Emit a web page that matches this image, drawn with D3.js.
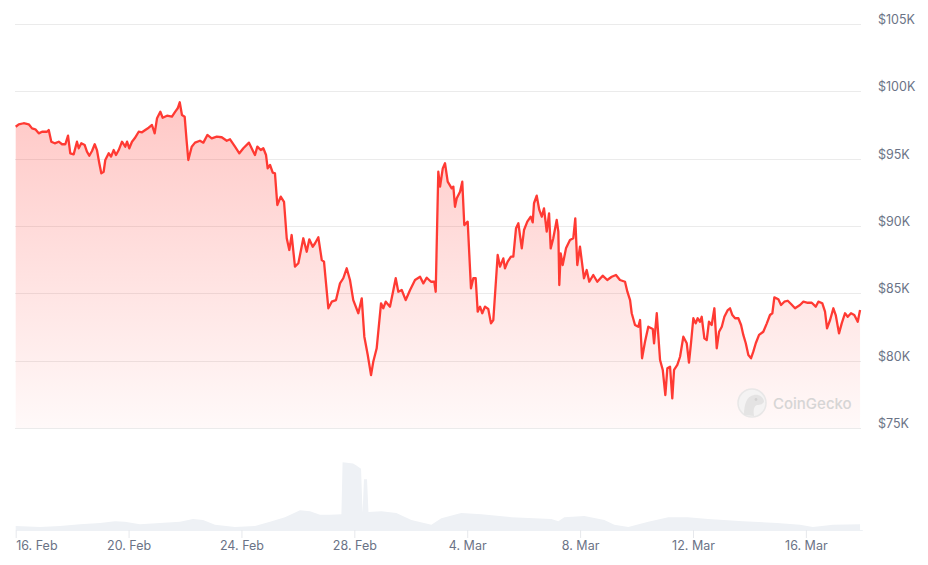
<!DOCTYPE html>
<html>
<head>
<meta charset="utf-8">
<script src="https://cdn.jsdelivr.net/npm/d3@7"></script>
<style>
  html, body { margin: 0; padding: 0; background: #fff; }
  svg { display: block; font-family: Inter, "Noto Sans", sans-serif; }
</style>
</head>
<body>
<svg id="chart" width="928" height="565"></svg>
<script>
// ---------------- DATA ----------------
const startDate = "2025-02-16T00:00:00Z";
const spanHours = 720;

// hours after 16 Feb 00:00 UTC
const hoursFromStart = [
  0,2.6,6.8,11.1,13.9,16.7,19.6,22.4,26.6,28.1,
  30.3,33.2,36.6,39.4,42.2,44.5,46.4,49.3,52.1,53.6,
  55.8,58.7,60.6,62.6,64.9,67.2,69.1,71.1,72.8,74.8,
  76.2,79.1,81.1,83.3,85.3,87.6,90.4,93.2,94.7,96.6,
  98.9,101.2,104.6,107.4,110.2,113.1,115.9,118.2,120.2,123,
  125,128.7,132.9,135.7,137.8,139.5,141.4,143.7,145.3,146.8,
  149.7,152.5,156.7,159.6,163,166.7,171,175.2,179.5,182.3,
  186.5,190.2,193.6,198.4,202.1,203.5,205.5,208.4,210.6,212.9,
  214.3,216.3,218.6,220.5,222.5,225.4,228.2,230.5,232.7,234.7,
  237.5,240.4,244.6,247.5,249.7,252.6,254.6,257.4,260.3,262.2,
  265.9,268.8,272.4,275.8,278.6,281.5,284.3,287.1,291.4,294.3,
  296.5,299.4,302.2,304.1,307,310.7,312.6,314.7,318.3,321.2,
  323.2,325.4,328.3,331.7,335.4,339.6,343.9,346.7,349.6,353.2,
  356,357.2,359.4,360.9,363.2,365.1,367.4,370.8,372.2,373.6,
  375.1,377.9,379.8,381.5,384.4,387.2,389.2,391.2,392.9,394.9,
  396.8,399.1,401.9,404.2,406.2,409.9,411.9,414.7,416.1,418.4,
  421.2,423.2,425.5,427.5,430.4,432.3,435.1,438,439.7,440.8,
  443.1,445.3,447.4,449.3,451.6,453.6,455,457.2,460.1,461.5,
  462.3,463.5,465.2,468,471.4,474.2,475.9,477.6,479.9,483.3,
  485.6,487.8,491.2,494.6,499.2,503.1,506.9,510.5,513.9,518.2,
  520.2,522.5,523.9,526.7,529.5,531,532.7,535.2,538,541.8,
  542.9,545.2,548,550.3,552.5,554.2,556.5,558.4,559.9,562.7,
  565,567.8,570.7,572.6,574.3,576.3,578.3,580,582,583.4,
  585.7,587.7,589.6,591.9,594.2,596.2,598.2,600.5,602.7,605.6,
  607.5,609.5,611.8,614.6,616.9,618.8,620.9,623.1,625.4,627.3,
  629.4,632.2,635.8,638.8,641.5,643.5,645.2,648.6,650.9,653.7,
  656.6,659.4,662.8,667,669.9,673.6,677,680.4,682.6,686,
  688.3,690,692.6,695.4,697.4,700.2,702.5,705.3,707.6,710.4,
  713.2,716.1,718.1
];

// BTC price, USD
const priceUSD = [
  97370,97550,97630,97550,97250,97180,96880,97000,97000,97130,
  96260,96140,96260,96070,96070,96710,95400,95320,96260,95770,
  96140,96010,95520,95220,95570,96070,95640,94660,93910,94030,
  94900,95400,95150,95640,95270,95640,96260,95890,96260,95770,
  96260,96510,97000,96960,97130,97300,97500,96880,98000,98490,
  98040,98190,98120,98490,98740,99190,98240,98120,96390,94900,
  95890,96190,96330,96190,96760,96510,96630,96590,96330,96440,
  95890,95400,95770,96190,95520,95270,95890,95640,95770,95270,
  94280,94530,93960,93910,91560,92180,91800,89090,88220,89330,
  86980,87230,89090,88090,89010,88460,88720,89160,87470,87350,
  83890,84380,84500,85740,86120,86860,85990,84500,83520,84630,
  81780,80420,78930,79920,80920,84260,83890,84380,84010,85250,
  86120,85120,85250,84500,85250,85990,86230,85740,86160,85860,
  85860,85120,94030,92920,94280,94660,93290,92800,92920,91430,
  92060,92550,93290,90070,90320,85370,86120,86120,83640,84010,
  83520,84010,83840,82770,83020,87850,86980,87600,86860,87350,
  87720,87720,89830,90200,88340,89700,90320,90690,90270,91690,
  92250,91190,90690,91310,89580,90940,88340,89090,90450,89580,
  85620,87970,87100,88340,88960,89090,90570,87100,88460,86120,
  86730,85860,86360,85860,86310,85990,86230,86360,85990,85860,
  85120,84500,83520,82650,82520,83020,80180,81410,82520,82350,
  81290,83520,80050,79310,77450,79430,79550,77200,79310,79680,
  80290,81780,81290,79850,81290,83150,82770,83150,82890,83260,
  81660,81530,82890,82650,83890,80920,82150,82520,83260,83760,
  83890,83390,83150,83150,82650,81910,81290,80420,80180,80670,
  81290,81910,82150,82770,83390,83520,84700,84560,84130,84380,
  84450,84210,83890,84130,84380,84300,84300,84010,84380,84260,
  83640,82400,83020,83890,83390,82030,82770,83520,83260,83520,
  83390,82890,83760
];

// trading volume, billions USD (estimated)
const volumeHours = [
  0,20.7,37.7,54.7,71.7,84.4,92.9,105.7,122.7,139.7,
  150.8,159.3,169.5,186.5,203.5,216.3,229,241.8,250.3,258.8,
  267.3,277,278,286.9,289.4,293.7,295,296.2,298.8,300,
  311,323.7,336.5,353.5,362,374.8,379,396,421.5,455.5,
  461.5,466.6,483.6,500.6,509.1,521,538,555,571.6,588.9,
  618.6,647.5,667,678,695,718.1
];
const volumeB = [
  7,5,7,10,12,15,14,10,12,14,
  19,17,9,5,7,14,22,34,32,26,
  26,27,116,114,111,105,29,87,87,31,
  32,29,17,9,20,27,29,27,22,19,
  15,22,24,17,9,5,14,22,22,19,
  15,12,9,5,9,10
];

const priceTicks = [75000, 80000, 85000, 90000, 95000, 100000, 105000];
const dateTicks = ["2025-02-16","2025-02-20","2025-02-24","2025-02-28","2025-03-04","2025-03-08","2025-03-12","2025-03-16"];

// ---------------- CHART ----------------
const svg = d3.select("#chart");
const t0 = new Date(startDate);
const toDate = h => new Date(t0.getTime() + h * 3600e3);

const x = d3.scaleUtc()
  .domain([t0, toDate(spanHours)])
  .range([15.7, 862.3]);
const y = d3.scaleLinear().domain([75000, 105000]).range([428, 24]);
const yv = d3.scaleLinear().domain([0, 120]).range([530, 460]);

const n = Math.min(hoursFromStart.length, priceUSD.length);
const series = d3.range(n).map(i => ({ d: toDate(hoursFromStart[i]), p: priceUSD[i] }));
const vol = d3.range(Math.min(volumeHours.length, volumeB.length))
  .map(i => ({ d: toDate(volumeHours[i]), v: volumeB[i] }));

const defs = svg.append("defs");
const grad = defs.append("linearGradient")
  .attr("id", "fillGrad").attr("gradientUnits", "userSpaceOnUse")
  .attr("x1", 0).attr("x2", 0).attr("y1", y(105000)).attr("y2", y(75000));
grad.append("stop").attr("offset", "0%").attr("stop-color", "#ff3a33").attr("stop-opacity", 0.34);
grad.append("stop").attr("offset", "100%").attr("stop-color", "#ff3a33").attr("stop-opacity", 0.03);

// grid
const gridG = svg.append("g");
gridG.selectAll("line").data(priceTicks).join("line")
  .attr("x1", 15).attr("x2", 861)
  .attr("y1", d => Math.round(y(d)) + 0.5).attr("y2", d => Math.round(y(d)) + 0.5)
  .attr("stroke", "#ebebeb").attr("stroke-width", 1);

// price labels (right)
svg.append("g").selectAll("text").data(priceTicks).join("text")
  .attr("x", 878).attr("y", d => y(d))
  .attr("font-size", 12.5).attr("fill", "#6b7386")
  .text(d => "$" + (d / 1000) + "K");

// volume
svg.append("path").datum(vol)
  .attr("fill", "#eef1f5")
  .attr("d", d3.area().x(d => x(d.d)).y0(yv(0)).y1(d => yv(d.v)));

// x axis
const xAxis = d3.axisBottom(x)
  .tickValues(dateTicks.map(s => new Date(s + "T00:00:00Z")))
  .tickSize(8).tickSizeOuter(0)
  .tickFormat(d => d.getUTCDate() + ". " + d3.utcFormat("%b")(d));
const ax = svg.append("g").attr("transform", "translate(0,530)").call(xAxis);
ax.select(".domain").attr("stroke", "#eef1f5");
ax.selectAll(".tick line").attr("stroke", "#e6e8ec");
ax.selectAll(".tick text")
  .attr("font-family", "Inter, 'Noto Sans', sans-serif")
  .attr("font-size", 12.5).attr("fill", "#6b7386").attr("dy", "1.1em")
  .attr("y", 6);
ax.selectAll(".tick").filter((d, i) => i === 0).select("text").attr("text-anchor", "start");

// price area
svg.append("path").datum(series)
  .attr("fill", "url(#fillGrad)")
  .attr("d", d3.area().x(d => x(d.d)).y0(y(75000)).y1(d => y(d.p)));

// watermark
const wm = svg.append("g").attr("opacity", 0.9);
wm.append("circle").attr("cx", 752).attr("cy", 403).attr("r", 14)
  .attr("fill", "#f3f3f3").attr("stroke", "#e6e6e6").attr("stroke-width", 1.5);
wm.append("path")
  .attr("d", "M744,415 C744,404 747,396 754,395 C759,394 763,397 764,401 C764,404 760,405 757,405 C754,406 753,410 754,416 Z")
  .attr("fill", "#e2e2e2");
wm.append("circle").attr("cx", 756).attr("cy", 399.5).attr("r", 1.4).attr("fill", "#cfcfcf");
wm.append("text").attr("x", 773).attr("y", 409)
  .attr("font-size", 15).attr("font-weight", 500).attr("fill", "#d2d2d2")
  .text("CoinGecko");

// price line
svg.append("path").datum(series)
  .attr("fill", "none").attr("stroke", "#ff3a33").attr("stroke-width", 2.3)
  .attr("stroke-linejoin", "round")
  .attr("d", d3.line().x(d => x(d.d)).y(d => y(d.p)));
</script>
</body>
</html>
